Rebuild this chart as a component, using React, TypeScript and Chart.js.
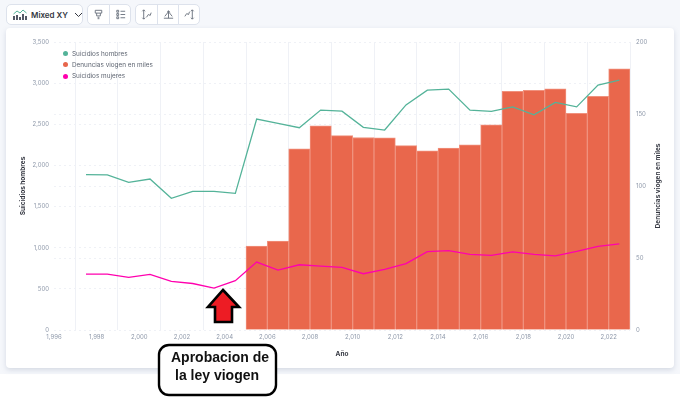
import React, { useEffect, useRef } from "react";
import { Chart, registerables } from "chart.js";

Chart.register(...registerables);

const lineYears = [1997.5,1998.5,1999.5,2000.5,2001.5,2002.5,2003.5,2004.5,2005.5,2006.5,2007.5,2008.5,2009.5,2010.5,2011.5,2012.5,2013.5,2014.5,2015.5,2016.5,2017.5,2018.5,2019.5,2020.5,2021.5,2022.5];
const suicidiosHombres = [1888,1885,1795,1835,1600,1685,1685,1660,2564,2510,2458,2673,2660,2463,2430,2735,2915,2928,2672,2656,2712,2615,2766,2712,2977,3037];
const suicidiosMujeres = [680,680,640,675,590,565,510,600,825,728,793,777,761,684,736,806,952,964,919,907,950,919,901,955,1016,1047];
const barYears = [2005.5,2006.5,2007.5,2008.5,2009.5,2010.5,2011.5,2012.5,2013.5,2014.5,2015.5,2016.5,2017.5,2018.5,2019.5,2020.5,2021.5,2022.5];
const denuncias = [58.3,61.8,125.8,141.8,135,133.7,133.5,128,124.4,126.3,128.6,142.5,165.7,166.4,167.5,150.4,162.2,181.4];
const legendItems = [
  { label: "Suicidios hombres", color: "#54B399" },
  { label: "Denuncias viogen en miles", color: "#E7664C" },
  { label: "Suicidios mujeres", color: "#FF00AE" },
];
const annotationLines = ["Aprobacion de", "la ley viogen"];
const rightTitle = "Denuncias viogen en miles";

const FONT = "Inter, 'Noto Sans', sans-serif";
const TICK = "#8F99AA";
const TITLE = "#343741";
const GRID = "#EFF1F6";

const rightTitlePlugin = {
  id: "rightTitle",
  afterDraw(chart: any) {
    const { ctx, chartArea } = chart;
    ctx.save();
    ctx.translate(658, (chartArea.top + chartArea.bottom) / 2);
    ctx.rotate(-Math.PI / 2);
    ctx.font = `bold 6.5px ${FONT}`;
    ctx.fillStyle = TITLE;
    ctx.textAlign = "center";
    ctx.textBaseline = "middle";
    ctx.fillText(rightTitle, 0, 0);
    ctx.restore();
  },
};

const btn: React.CSSProperties = {
  position: "absolute", top: 4, height: 21, background: "#fff", border: "1px solid #DDE2EC",
  boxSizing: "border-box", display: "flex", alignItems: "center", justifyContent: "center",
};

function Glyph({ d }: { d: string }) {
  return (
    <svg width="13" height="13" viewBox="0 0 14 14" fill="none" stroke="#6A717D" strokeWidth="1">
      <path d={d} />
    </svg>
  );
}

export default function App() {
  const ref = useRef<HTMLCanvasElement>(null);
  useEffect(() => {
    const chart = new Chart(ref.current!, {
      type: "bar",
      plugins: [rightTitlePlugin],
      data: {
        datasets: [
          {
            type: "line", label: legendItems[0].label, yAxisID: "y", order: 1,
            data: lineYears.map((x, i) => ({ x, y: suicidiosHombres[i] })),
            borderColor: legendItems[0].color, borderWidth: 1.3, pointRadius: 0, tension: 0,
          },
          {
            type: "bar", label: legendItems[1].label, yAxisID: "y1", order: 3,
            data: barYears.map((x, i) => ({ x, y: denuncias[i] })),
            backgroundColor: "#E9674C", borderColor: "#F0917D", borderWidth: 1,
            barPercentage: 1, categoryPercentage: 1,
          },
          {
            type: "line", label: legendItems[2].label, yAxisID: "y", order: 2,
            data: lineYears.map((x, i) => ({ x, y: suicidiosMujeres[i] })),
            borderColor: legendItems[2].color, borderWidth: 1.3, pointRadius: 0, tension: 0,
          },
        ],
      } as any,
      options: {
        animation: false,
        responsive: false,
        locale: "en-US",
        devicePixelRatio: 1,
        layout: { padding: { left: 19, right: 16, top: 42, bottom: 46 } },
        plugins: { legend: { display: false }, tooltip: { enabled: false } },
        scales: {
          x: {
            type: "linear", min: 1996, max: 2023, offset: false,
            ticks: { stepSize: 2, includeBounds: false, maxRotation: 0, autoSkip: false, padding: 4, color: TICK, font: { family: FONT, size: 6 } },
            grid: { color: GRID, drawTicks: false },
            border: { display: false },
            title: { display: true, text: "Año", color: TITLE, font: { family: FONT, size: 6.5, weight: "bold" }, padding: 0 },
            afterFit: (s: any) => { s.height = 28; },
          },
          y: {
            type: "linear", position: "left", min: 0, max: 3500,
            ticks: { stepSize: 500, padding: 5, color: TICK, font: { family: FONT, size: 6 } },
            grid: { color: GRID, drawTicks: false },
            border: { display: false, dash: [2, 3] },
            title: { display: true, text: "Suicidios hombres", color: TITLE, font: { family: FONT, size: 6.5, weight: "bold" }, padding: 0 },
            afterFit: (s: any) => { s.width = 35; },
          },
          y1: {
            type: "linear", position: "right", min: 0, max: 200,
            ticks: { stepSize: 50, padding: 6, color: TICK, font: { family: FONT, size: 6 } },
            grid: { color: GRID, drawTicks: false },
            border: { display: false, dash: [2, 3] },
            afterFit: (s: any) => { s.width = 34; },
          },
        },
      },
    } as any);
    return () => chart.destroy();
  }, []);

  return (
    <div style={{ position: "fixed", left: 0, top: 0, width: 680, height: 404, background: "#fff", overflow: "hidden", fontFamily: FONT }}>
      <div style={{ position: "absolute", left: 0, top: 0, width: 680, height: 374, background: "#F5F7FB" }} />
      <div style={{ position: "absolute", left: 6, top: 28, width: 668, height: 340, background: "#fff", borderRadius: 4, boxShadow: "0 2px 5px rgba(120,130,160,0.25)" }} />

      <div style={{ ...btn, left: 6, width: 77, borderRadius: 5, justifyContent: "flex-start", paddingLeft: 6, fontSize: 8, fontWeight: 600, color: "#343741", gap: 4, whiteSpace: "nowrap" }}>
        <svg width="14" height="12" viewBox="0 0 14 12" fill="none" style={{ flex: "none" }}>
          <path d="M0.5 5 L4 2 L7 4 L10 1 L13.5 4" stroke="#54B399" strokeWidth="1" />
          <path d="M1 11V7M4 11V6M7 11V8M10 11V5M13 11V7" stroke="#535966" strokeWidth="2" />
        </svg>
        <span>Mixed XY</span>
        <svg width="9" height="6" viewBox="0 0 9 6" fill="none" style={{ marginLeft: 2, flex: "none" }}>
          <path d="M1 1 L4.5 4.5 L8 1" stroke="#343741" strokeWidth="1" />
        </svg>
      </div>
      <div style={{ ...btn, left: 87, width: 23, borderRadius: "5px 0 0 5px" }}><Glyph d="M3.5 2.5h7v3h-7zM5 5.5v3h4v-3M6 10h2M6 11.5h2" /></div>
      <div style={{ ...btn, left: 109, width: 22, borderRadius: "0 5px 5px 0" }}><Glyph d="M3 2.5h2v2H3zM3 6h2v2H3zM3 9.5h2v2H3zM7 3.5h5M7 7h5M7 10.5h5" /></div>
      <div style={{ ...btn, left: 135, width: 23, borderRadius: "5px 0 0 5px" }}><Glyph d="M4 2v10M2.5 3.5L4 2l1.5 1.5M2.5 10.5L4 12l1.5-1.5M7 10l2-3 2 1 1-3" /></div>
      <div style={{ ...btn, left: 157, width: 22 }}><Glyph d="M2 11h10M7 3v8M5.5 4.5L7 3l1.5 1.5M3 9l4-5 4 5" /></div>
      <div style={{ ...btn, left: 178, width: 22, borderRadius: "0 5px 5px 0" }}><Glyph d="M10 2v10M8.5 3.5L10 2l1.5 1.5M8.5 10.5L10 12l1.5-1.5M2 9l2-3 2 1 1-3" /></div>

      <canvas ref={ref} width={680} height={404} style={{ position: "absolute", left: 0, top: 0, width: 680, height: 404 }} />

      {legendItems.map((it, i) => (
        <div key={it.label} style={{ position: "absolute", left: 63, top: 48 + i * 11.3, height: 11, display: "flex", alignItems: "center", gap: 4, fontSize: 6.4, color: "#5F6672", whiteSpace: "nowrap" }}>
          <span style={{ width: 5, height: 5, borderRadius: "50%", background: it.color, display: "block" }} />
          <span>{it.label}</span>
        </div>
      ))}

      <svg width="680" height="404" style={{ position: "absolute", left: 0, top: 0 }}>
        <path d="M223 290 L239 307 L232 307 L232 322 L215 322 L215 307 L208 307 Z" fill="#ED1C24" stroke="#000" strokeWidth="2.6" />
        <rect x="159" y="345" width="117" height="50" rx="10" ry="10" fill="#fff" stroke="#000" strokeWidth="2.4" />
      </svg>
      <div style={{ position: "absolute", left: 171, top: 349, fontFamily: "'Liberation Sans', Arial, sans-serif", fontWeight: 700, fontSize: 14, lineHeight: "17.5px", color: "#111", whiteSpace: "nowrap" }}>
        <div>{annotationLines[0]}</div>
        <div style={{ marginLeft: 4 }}>{annotationLines[1]}</div>
      </div>
    </div>
  );
}
